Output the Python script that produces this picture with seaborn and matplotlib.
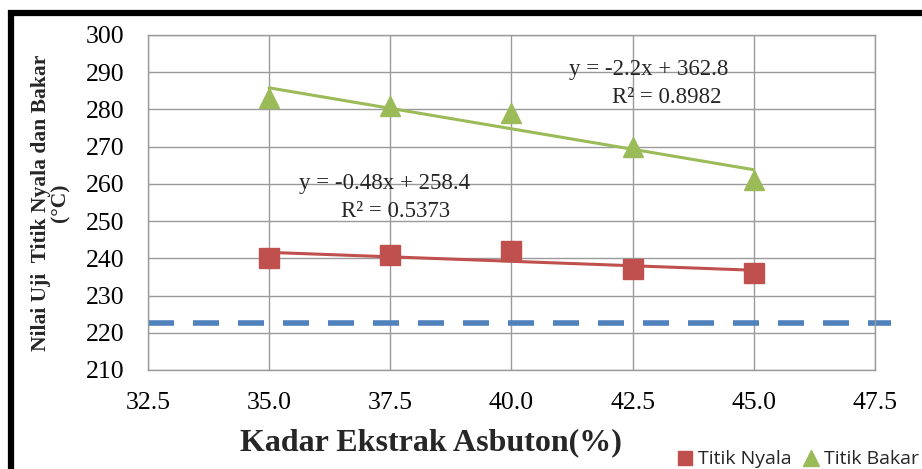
import matplotlib.pyplot as plt
import matplotlib.patches as mpatches
import pandas as pd
import seaborn as sns

# data
kadar = [35.0, 37.5, 40.0, 42.5, 45.0]
titik_nyala = [240, 241, 242, 237, 236]
titik_bakar = [283, 281, 279, 270, 261]
batas_nyala = 222.5

x_ticks = [32.5, 35.0, 37.5, 40.0, 42.5, 45.0, 47.5]
y_ticks = list(range(210, 301, 10))

red = "#C0504D"
green = "#9BBB59"
blue = "#4F81BD"

sns.set_theme(style="whitegrid")
plt.rcParams["font.family"] = ["Liberation Serif", "DejaVu Serif"]

df = pd.DataFrame({"kadar": kadar, "nyala": titik_nyala, "bakar": titik_bakar})

fig = plt.figure(figsize=(9.22, 4.69), dpi=100)
ax = fig.add_axes([0.1605, 0.2111, 0.7885, 0.7143])

# reference line (dashed), runs a bit past the right edge
ax.plot([32.5, 47.83], [batas_nyala, batas_nyala], color=blue, lw=4,
        dashes=(4.68, 3.42), clip_on=False, zorder=2)

sns.regplot(data=df, x="kadar", y="nyala", scatter=False, ci=None, truncate=True,
            color=red, line_kws={"lw": 2.2, "zorder": 3}, ax=ax)
sns.regplot(data=df, x="kadar", y="bakar", scatter=False, ci=None, truncate=True,
            color=green, line_kws={"lw": 2.2, "zorder": 3}, ax=ax)
ax.plot(df["kadar"], df["nyala"], ls="none", marker="s", ms=14, color=red,
        mec=red, zorder=4)
ax.plot(df["kadar"], df["bakar"], ls="none", marker="^", ms=15, color=green,
        mec=green, zorder=4)

ax.set_xlim(32.5, 47.5)
ax.set_ylim(210, 300)
ax.set_xticks(x_ticks)
ax.set_xticklabels([f"{v:.1f}" for v in x_ticks])
ax.set_yticks(y_ticks)
ax.grid(True, color="#9a9a9a", lw=1)
for s in ax.spines.values():
    s.set_color("#9a9a9a")
    s.set_linewidth(1)
ax.tick_params(axis="both", which="both", length=6, width=1, color="#9a9a9a",
               direction="out", labelsize=18.5, labelcolor="black")
ax.tick_params(axis="y", pad=11)
ax.tick_params(axis="x", pad=10)

ax.set_xlabel("Kadar Ekstrak Asbuton(%)", fontsize=23, fontweight="bold")
ax.xaxis.set_label_coords(0.389, -0.175)
ax.set_ylabel("Nilai Uji  Titik Nyala dan Bakar\n(°C)", fontsize=15.5,
              fontweight="bold", labelpad=11, linespacing=0.95)

ax.text(42.84, 290.6, "y = -2.2x + 362.8", fontsize=16.5, ha="center", va="center")
ax.text(43.2, 283.1, "R² = 0.8982", fontsize=16.5, ha="center", va="center")
ax.text(37.39, 260.2, "y = -0.48x + 258.4", fontsize=16.5, ha="center", va="center")
ax.text(37.6, 252.6, "R² = 0.5373", fontsize=16.5, ha="center", va="center")

handles = [
    plt.Line2D([], [], ls="none", marker="s", ms=10, color=red),
    plt.Line2D([], [], ls="none", marker="^", ms=11, color=green),
]
fig.legend(handles, ["Titik Nyala", "Titik Bakar"], loc="lower left",
           bbox_to_anchor=(0.716, -0.036), ncol=2, frameon=False,
           prop={"family": "Open Sans", "size": 14}, handlelength=0.8,
           handletextpad=0.25, columnspacing=0.6)

# thick black frame, right and bottom edges fall outside the picture
fig.patches.append(mpatches.Rectangle((10.5 / 922, -0.5), 1.2, 1.5 - 12.5 / 469,
                                      transform=fig.transFigure, fill=False,
                                      ec="black", lw=4.5, zorder=10))

fig.savefig("out.png", dpi=100)
plt.close()
